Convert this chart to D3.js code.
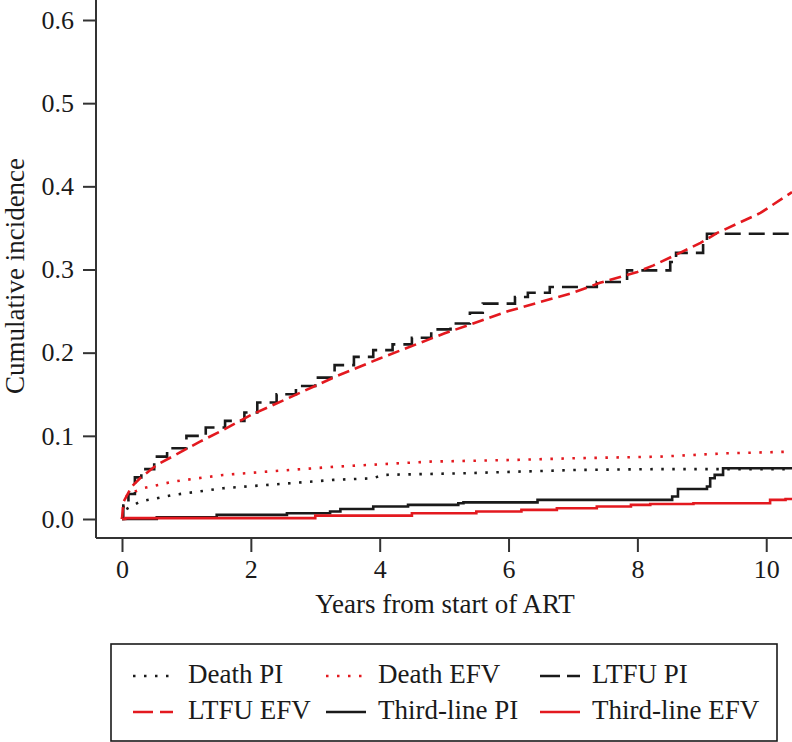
<!DOCTYPE html>
<html>
<head>
<meta charset="utf-8">
<script src="https://cdn.jsdelivr.net/npm/d3@7"></script>
<style>
  html, body { margin: 0; padding: 0; background: #fff; }
  svg { display: block; }
  svg text { font-family: "Liberation Serif", "Times New Roman", Times, "Noto Serif", "DejaVu Serif", serif; fill: #1a1a1a; }
</style>
</head>
<body>
<svg id="chart" width="792" height="742"></svg>
<script>
// ---- Data ----
const xTicks = [0, 2, 4, 6, 8, 10];
const yTicks = [0.0, 0.1, 0.2, 0.3, 0.4, 0.5, 0.6];

const deathPI_t = [0, 0.05, 0.28, 0.8, 1.57, 2.61, 3.28, 3.9, 4.05, 5.3, 7.06, 8.35, 10.4];
const deathPI_v = [0, 0.011, 0.021, 0.029, 0.037, 0.043, 0.047, 0.049, 0.053, 0.055, 0.059, 0.060, 0.060];

const deathEFV_t = [0, 0.03, 0.08, 0.33, 0.8, 1.57, 2.61, 3.34, 4.78, 6.07, 7.0, 8.35, 9.39, 10.4];
const deathEFV_v = [0, 0.018, 0.029, 0.037, 0.045, 0.053, 0.059, 0.063, 0.069, 0.071, 0.073, 0.075, 0.079, 0.081];

const ltfuPI_t = [0, 0.02, 0.1, 0.2, 0.3, 0.5, 0.7, 1.0, 1.3, 1.6, 1.9, 2.1, 2.4, 2.7, 3.0, 3.3, 3.6, 3.9, 4.2, 4.5, 4.8, 5.1, 5.4, 5.6, 6.1, 6.3, 6.64, 7.37, 7.84, 8.51, 8.6, 9.02, 9.08, 10.4];
const ltfuPI_v = [0, 0.02, 0.03, 0.05, 0.06, 0.075, 0.085, 0.100, 0.110, 0.118, 0.128, 0.140, 0.150, 0.160, 0.170, 0.185, 0.195, 0.203, 0.210, 0.218, 0.228, 0.235, 0.248, 0.259, 0.267, 0.272, 0.279, 0.285, 0.299, 0.309, 0.320, 0.335, 0.343, 0.343];

const ltfuEFV_t = [0, 0.02, 0.15, 0.28, 0.54, 0.9, 1.21, 1.57, 2.0, 2.6, 3.34, 4.0, 5.0, 6.0, 7.0, 7.42, 8.0, 8.25, 8.66, 8.98, 9.24, 9.91, 10.4];
const ltfuEFV_v = [0, 0.02, 0.039, 0.049, 0.065, 0.080, 0.093, 0.107, 0.125, 0.146, 0.172, 0.193, 0.223, 0.250, 0.272, 0.284, 0.297, 0.305, 0.320, 0.332, 0.344, 0.368, 0.393];

const thirdPI_t = [0, 0.54, 1.47, 2.56, 3.23, 3.39, 3.9, 4.44, 5.22, 5.3, 6.45, 8.54, 8.63, 9.08, 9.13, 9.2, 9.33, 10.4];
const thirdPI_v = [0, 0.002, 0.005, 0.007, 0.009, 0.012, 0.015, 0.017, 0.019, 0.020, 0.023, 0.027, 0.036, 0.039, 0.049, 0.053, 0.061, 0.061];

const thirdEFV_t = [0, 0.05, 3.0, 4.5, 5.5, 6.2, 6.75, 7.37, 7.9, 8.2, 8.87, 10.06, 10.3, 10.4];
const thirdEFV_v = [0, 0.001, 0.004, 0.007, 0.009, 0.011, 0.013, 0.015, 0.017, 0.018, 0.019, 0.023, 0.024, 0.024];

const seriesNames = ["Death PI", "Death EFV", "LTFU PI", "LTFU EFV", "Third-line PI", "Third-line EFV"];

// ---- Styles ----
const BLACK = "#1a1a1a", RED = "#e3191f";
const FONT = '"Liberation Serif", "Times New Roman", Times, "Noto Serif", "DejaVu Serif", serif';
const series = [
  { name: seriesNames[0], t: deathPI_t,  v: deathPI_v,  color: BLACK, dash: "2.5,8.5", step: false },
  { name: seriesNames[1], t: deathEFV_t, v: deathEFV_v, color: RED,   dash: "2.5,8.5", step: false },
  { name: seriesNames[2], t: ltfuPI_t,   v: ltfuPI_v,   color: BLACK, dash: "16,8",  step: true },
  { name: seriesNames[3], t: ltfuEFV_t,  v: ltfuEFV_v,  color: RED,   dash: "12,6",  step: false },
  { name: seriesNames[4], t: thirdPI_t,  v: thirdPI_v,  color: BLACK, dash: null,    step: true },
  { name: seriesNames[5], t: thirdEFV_t, v: thirdEFV_v, color: RED,   dash: null,    step: true }
];
const legendDash = ["2.5,8.5", "2.5,8.5", "20,7", "20,7", null, null];

const svg = d3.select("#chart");
const W = 792;

const x = d3.scaleLinear().domain([0, 10.4]).range([122, 792]);
const y = d3.scaleLinear().domain([0, 0.6]).range([519, 20]);

const axisColor = "#333";
const frameLeft = 96, frameBottom = 538;

svg.append("line").attr("x1", frameLeft).attr("x2", frameLeft).attr("y1", 0).attr("y2", frameBottom)
  .attr("stroke", axisColor).attr("stroke-width", 2);
svg.append("line").attr("x1", frameLeft).attr("x2", W).attr("y1", frameBottom).attr("y2", frameBottom)
  .attr("stroke", axisColor).attr("stroke-width", 2);

const yAxis = d3.axisLeft(y).tickValues(yTicks).tickFormat(d3.format(".1f")).tickSize(13).tickPadding(9);
const gy = svg.append("g").attr("transform", `translate(${frameLeft},0)`).call(yAxis)
  .attr("font-family", FONT).attr("font-size", 26);
gy.select(".domain").remove();
gy.selectAll(".tick line").attr("stroke", axisColor).attr("stroke-width", 2);
gy.selectAll(".tick text").style("font-family", FONT).style("font-size", "26px").attr("fill", "#1a1a1a");

const xAxis = d3.axisBottom(x).tickValues(xTicks).tickFormat(d3.format("d")).tickSize(14).tickPadding(8);
const gx = svg.append("g").attr("transform", `translate(0,${frameBottom})`).call(xAxis)
  .attr("font-family", FONT).attr("font-size", 26);
gx.select(".domain").remove();
gx.selectAll(".tick line").attr("stroke", axisColor).attr("stroke-width", 2);
gx.selectAll(".tick text").style("font-family", FONT).style("font-size", "26px").attr("fill", "#1a1a1a");

svg.append("text").attr("x", 445).attr("y", 613).attr("text-anchor", "middle")
  .style("font-family", FONT).style("font-size", "27px").text("Years from start of ART");
svg.append("text").attr("transform", "translate(24,276) rotate(-90)").attr("text-anchor", "middle")
  .style("font-family", FONT).style("font-size", "27px").text("Cumulative incidence");

svg.append("clipPath").attr("id", "clip").append("rect")
  .attr("x", frameLeft + 1).attr("y", 0).attr("width", W - frameLeft).attr("height", frameBottom - 1);

const plot = svg.append("g").attr("clip-path", "url(#clip)");
series.forEach(s => {
  const pts = s.t.map((t, i) => [t, s.v[i]]);
  const line = d3.line().x(d => x(d[0])).y(d => y(d[1]))
    .curve(s.step ? d3.curveStepAfter : d3.curveLinear);
  plot.append("path").attr("d", line(pts)).attr("fill", "none")
    .attr("stroke", s.color).attr("stroke-width", 2.6)
    .attr("stroke-dasharray", s.dash)
    .attr("stroke-linejoin", "miter");
});

svg.append("rect").attr("x", 111).attr("y", 644).attr("width", 666).attr("height", 97)
  .attr("fill", "none").attr("stroke", "#1a1a1a").attr("stroke-width", 1.6);
const colSym = [133, 326, 540], colText = [188, 378, 592];
const rowY = [676, 712];
series.forEach((s, i) => {
  const r = Math.floor(i / 3), c = i % 3;
  svg.append("line").attr("x1", colSym[c]).attr("x2", colSym[c] + 40)
    .attr("y1", rowY[r]).attr("y2", rowY[r])
    .attr("stroke", s.color).attr("stroke-width", 2.6)
    .attr("stroke-dasharray", legendDash[i]);
  svg.append("text").attr("x", colText[c]).attr("y", rowY[r] + 7)
    .style("font-family", FONT).style("font-size", "27px").text(s.name);
});
</script>
</body>
</html>
